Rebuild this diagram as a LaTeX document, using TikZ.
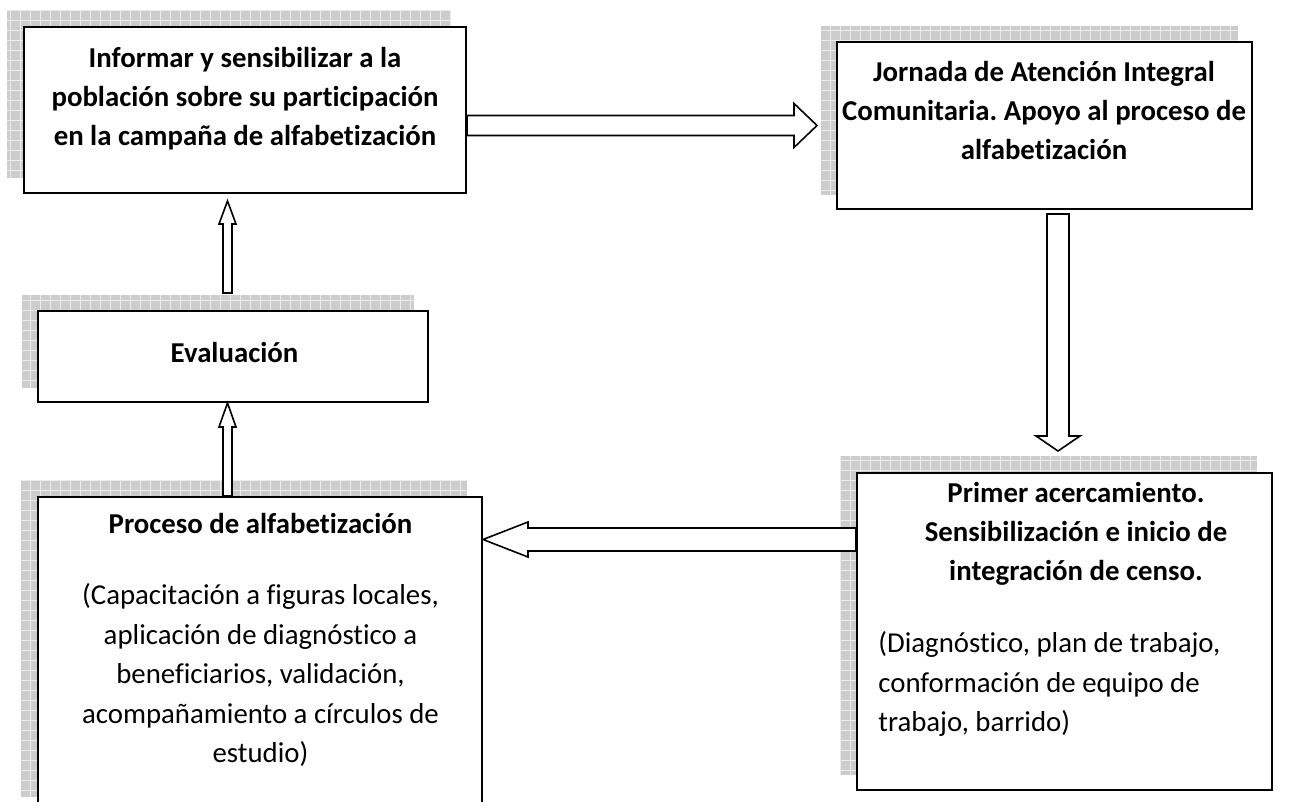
\documentclass[tikz,border=0pt]{standalone}
\usepackage{fontspec}
\setmainfont{Carlito}[Ligatures=NoCommon]
\usetikzlibrary{calc,backgrounds}
\frenchspacing

\tikzset{
  boxline/.style={draw, line width=1pt, fill=white, inner sep=0pt},
  shadowfill/.style={fill=gray!40},
  shadowgrid/.style={draw=gray!15, line width=0.3pt},
  blockarr/.style={draw, line width=0.8pt, fill=white, line join=miter},
  headtext/.style={font=\bfseries\fontsize{14.4}{19.5}\selectfont, align=center, inner sep=0pt},
  bodytext/.style={font=\fontsize{14.4}{19.75}\selectfont, inner sep=0pt},
}

% start, tip, shaft half width, head half width, head length
\newcommand{\blockarrow}[5]{%
  \coordinate (ba) at ($(#2)!#5!(#1)$);
  \draw[blockarr] ($(#1)!#3!90:(#2)$) -- ($(ba)!#3!90:(#2)$) -- ($(ba)!#4!90:(#2)$) -- (#2)
    -- ($(ba)!#4!-90:(#2)$) -- ($(ba)!#3!-90:(#2)$) -- ($(#1)!#3!-90:(#2)$) -- cycle;}

\begin{document}
\begin{tikzpicture}[x=0.5pt,y=-0.5pt]
      \useasboundingbox (0,0) rectangle (1289,802);
      \clip (0,0) rectangle (1289,802);

      \node[boxline, minimum width=221pt, minimum height=83pt] (inform) at (245,110) {};
      \node[boxline, minimum width=207.5pt, minimum height=83.5pt] (jornada) at (1044.5,125.5) {};
      \node[boxline, minimum width=195pt, minimum height=45.5pt] (eval) at (233,356.5) {};
      \node[boxline, minimum width=222pt, minimum height=157.5pt] (proceso) at (260,654.5) {};
      \node[boxline, minimum width=207.5pt, minimum height=158.5pt] (primer) at (1064.5,631.5) {};

      % sombras
      \begin{scope}[on background layer]
        \foreach \b/\o in {inform/16, jornada/15, eval/15, proceso/16, primer/16} {
          \fill[shadowfill] ($(\b.south west)+(-\o,-\o)$) rectangle ($(\b.north east)+(-\o,-\o)$);
          \draw[shadowgrid, step=5pt] ($(\b.south west)+(-\o,-\o)$) grid ($(\b.north east)+(-\o,-\o)$);
        }
      \end{scope}

      \node[headtext] (informtxt) at (245,99) {Informar y sensibilizar a la\\población sobre su participación\\en la campaña de alfabetización};
      \node[headtext] (jornadatxt) at (1044,111) {Jornada de Atención Integral\\Comunitaria. Apoyo al proceso de\\alfabetización};
      \node[headtext, anchor=base] (evaltxt) at (234.5,362) {Evaluación};
      \node[headtext, anchor=base] (procesotxt) at (260.5,533) {Proceso de alfabetización};
      \node[bodytext, align=center] (procesobody) at (260.5,675) {(Capacitación a figuras locales,\\aplicación de diagnóstico a\\beneficiarios, validación,\\acompañamiento a círculos de\\estudio)};
      \node[headtext] (primertxt) at (1076,534) {Primer acercamiento.\\Sensibilización e inicio de\\integración de censo.};
      \node[bodytext, align=left, anchor=west] (primerbody) at (878,684) {(Diagnóstico, plan de trabajo,\\conformación de equipo de\\trabajo, barrido)};

      % flechas
      \coordinate (a1s) at (inform.east |- jornada.west);
      \coordinate (a1e) at ($(jornada.west)+(-19,0)$);
      \blockarrow{a1s}{a1e}{5pt}{11pt}{11.5pt}

      \coordinate (a2s) at ($(jornada.south)+(13.5,4)$);
      \coordinate (a2e) at ($(primer.north)+(-6.5,-21)$);
      \blockarrow{a2s}{a2e}{5.5pt}{11pt}{7.5pt}

      \coordinate (a3e) at ($(proceso.east)+(0,-115)$);
      \coordinate (a3s) at (primer.west |- a3e);
      \blockarrow{a3s}{a3e}{5.75pt}{8.75pt}{22.5pt}

      \coordinate (a4s) at ($(proceso.north)+(-32.5,0)$);
      \coordinate (a4e) at (a4s |- eval.south);
      \blockarrow{a4s}{a4e}{2.25pt}{4.25pt}{12pt}

      \coordinate (a5s) at ($(eval.north)+(-5.5,-17)$);
      \coordinate (a5e) at ($(a5s |- inform.south)+(0,7)$);
      \blockarrow{a5s}{a5e}{2.25pt}{4.25pt}{11.5pt}

    \end{tikzpicture}
\end{document}
